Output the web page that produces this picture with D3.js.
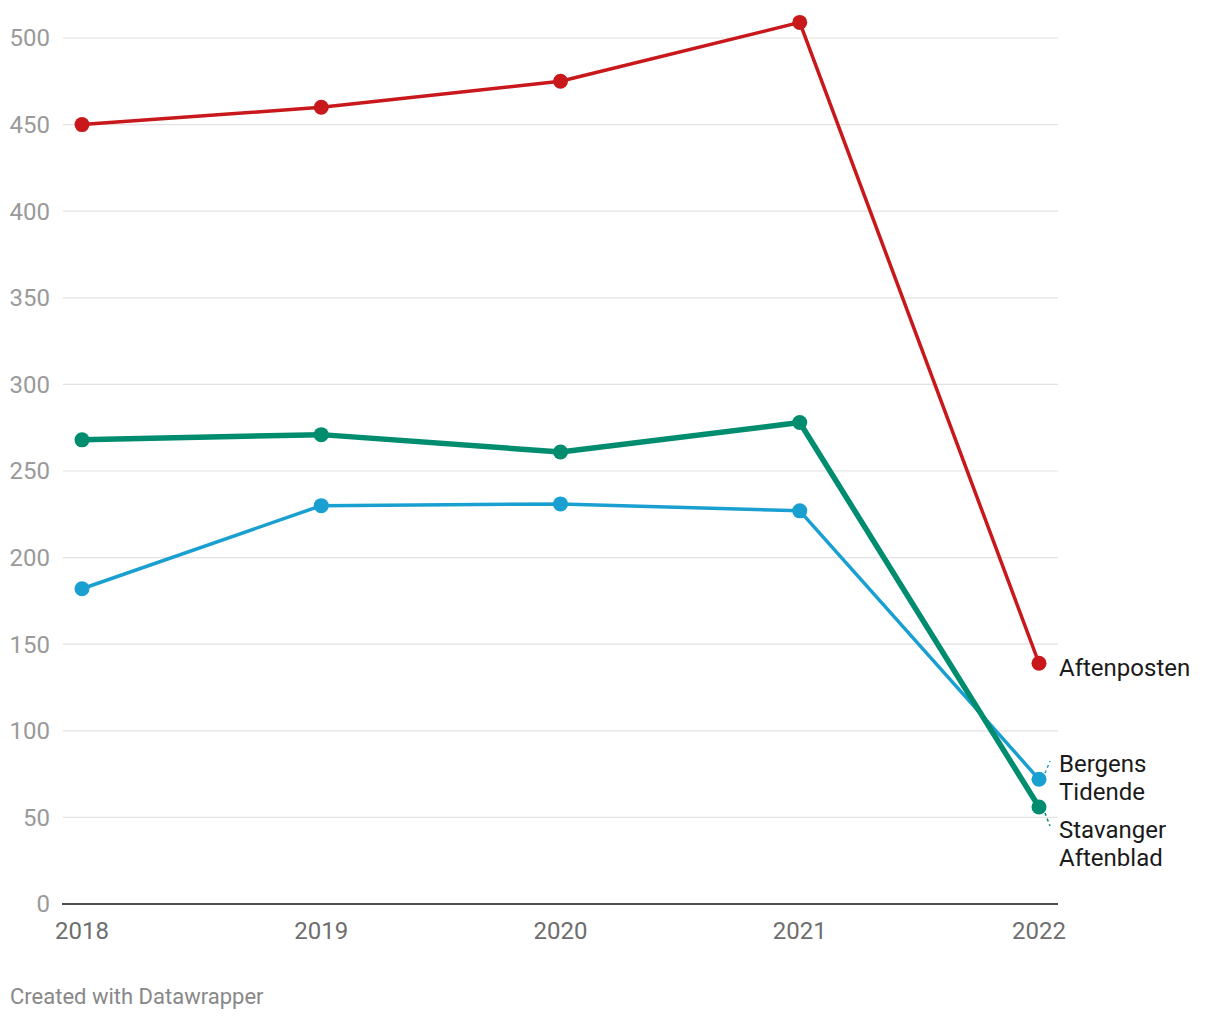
<!DOCTYPE html>
<html><head><meta charset="utf-8">
<script src="https://cdn.jsdelivr.net/npm/d3@7"></script>
<style>
html,body{margin:0;padding:0;background:#fff;}
svg{display:block;font-family:Roboto,"Noto Sans",sans-serif;}
</style></head>
<body>
<svg id="chart" width="1220" height="1020"></svg>
<script>
const years = ["2018","2019","2020","2021","2022"];
const aftenposten = [450, 460, 475, 509, 139];
const stavanger = [268, 271, 261, 278, 56];
const bergens = [182, 230, 231, 227, 72];
const yTicks = [0, 50, 100, 150, 200, 250, 300, 350, 400, 450, 500];

const series = [
  {name:["Bergens","Tidende"], values:bergens, color:"#1aa0d0", width:3.5, labelY:764, dash:true, dashEnd:761},
  {name:["Aftenposten"], values:aftenposten, color:"#c8181c", width:3.5, labelY:668, dash:false},
  {name:["Stavanger","Aftenblad"], values:stavanger, color:"#008c6e", width:5.5, labelY:830, dash:true, dashEnd:826},
];

const svg = d3.select("#chart");
const x = d3.scalePoint().domain(years).range([82, 1039]);
const y = d3.scaleLinear().domain([0, 500]).range([904, 38]);

// grid
const grid = svg.append("g");
grid.selectAll("line").data(yTicks.filter(d=>d>0)).join("line")
  .attr("x1", 63).attr("x2", 1058)
  .attr("y1", d=>y(d)).attr("y2", d=>y(d))
  .attr("stroke", "#e2e2e2").attr("stroke-width", 1.2);
grid.selectAll("text").data(yTicks).join("text")
  .attr("x", 50).attr("y", d=>y(d)).attr("dy", "0.35em")
  .attr("text-anchor", "end").attr("fill", "#9a9a9a")
  .attr("font-size", 24).text(d=>d);

// baseline
svg.append("line").attr("x1", 62).attr("x2", 1058)
  .attr("y1", y(0)).attr("y2", y(0)).attr("stroke", "#111").attr("stroke-width", 1.6);

// x labels
svg.append("g").selectAll("text").data(years).join("text")
  .attr("x", d=>x(d)).attr("y", 939).attr("text-anchor", "middle")
  .attr("fill", "#6e6e6e").attr("font-size", 24).text(d=>d);

const line = d3.line().x((d,i)=>x(years[i])).y(d=>y(d));

series.forEach(s=>{
  const g = svg.append("g");
  g.append("path").datum(s.values).attr("d", line)
    .attr("fill", "none").attr("stroke", s.color).attr("stroke-width", s.width)
    .attr("stroke-linejoin", "round").attr("stroke-linecap", "round");
  g.selectAll("circle").data(s.values).join("circle")
    .attr("cx", (d,i)=>x(years[i])).attr("cy", d=>y(d)).attr("r", 7.5)
    .attr("fill", s.color);
  const lastY = y(s.values[s.values.length-1]);
  if (s.dash) {
    const up = s.labelY < lastY;
    g.append("line").attr("x1", x("2022")+6).attr("y1", up ? lastY-6 : lastY+6)
      .attr("x2", 1050).attr("y2", s.dashEnd)
      .attr("stroke", s.color).attr("stroke-width", 1.5).attr("stroke-dasharray", "3,3");
  }
  const t = g.append("text").attr("x", 1059).attr("y", s.labelY)
    .attr("fill", "#1a1a1a").attr("font-size", 24);
  s.name.forEach((n,i)=>{
    t.append("tspan").attr("x", 1059).attr("dy", i===0 ? "0.35em" : "1.15em").text(n);
  });
});

svg.append("text").attr("x", 10).attr("y", 1004).attr("fill", "#888")
  .attr("font-size", 22).text("Created with Datawrapper");
</script>
</body></html>
